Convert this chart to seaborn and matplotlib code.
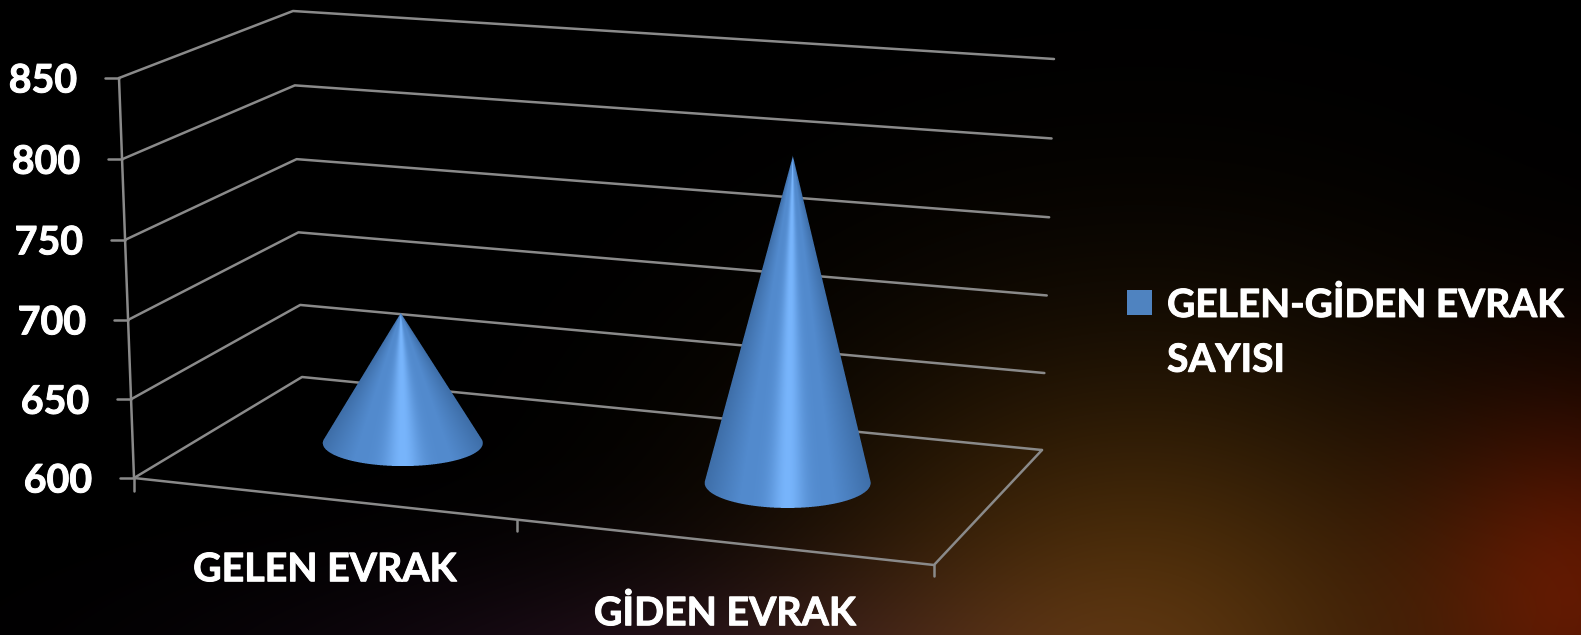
import numpy as np
import pandas as pd
import matplotlib
matplotlib.use('Agg')
import matplotlib.pyplot as plt
import matplotlib.patheffects as pe
import seaborn as sns
from matplotlib.patches import Patch
from matplotlib.path import Path

# chart values
categories = ['GELEN EVRAK', 'GİDEN EVRAK']
values = [685, 805]
y_ticks = [600, 650, 700, 750, 800, 850]
series_name = 'GELEN-GİDEN EVRAK\nSAYISI'

Y_MIN, Y_MAX = 600, 850

sns.set_theme(style='dark', rc={'axes.facecolor': 'black', 'figure.facecolor': 'black'})
plt.rcParams['font.family'] = ['Lato', 'DejaVu Sans']
plt.rcParams['font.weight'] = 'bold'

W, H = 1581, 635
fig = plt.figure(figsize=(W / 100, H / 100), dpi=100)
ax = fig.add_axes([0, 0, 1, 1])

# background glows
yy, xx = np.mgrid[0:H, 0:W]


def glow(cx, cy, sx, sy, rgb):
    g = np.exp(-((xx - cx) / sx) ** 2 - ((yy - cy) / sy) ** 2)
    return g[..., None] * np.array(rgb) / 255


bg = (glow(1140, 660, 340, 300, (84, 50, 10))
      + glow(1590, 590, 170, 190, (82, 16, 0))
      + glow(700, 690, 420, 120, (28, 12, 26)))
ax.imshow(np.clip(bg, 0, 1), extent=(0, W, H, 0), aspect='auto', zorder=0)

# corners of the 3D box on screen: front/back, left/right, bottom/top
box = {
    (0, 0, 0): (134, 478), (0, 0, 1): (119, 78),
    (0, 1, 0): (302, 377), (0, 1, 1): (293, 11),
    (1, 0, 0): (934, 565), (1, 0, 1): (948, 140),
    (1, 1, 0): (1042, 450), (1, 1, 1): (1054, 59),
}


def project(u, depth, val):
    # trilinear mix of the box corners, slight perspective on the value axis
    w = (val - Y_MIN) / (Y_MAX - Y_MIN)
    w = w / (1 + 0.02 * (1 - w))
    p = np.zeros(2)
    for (a, b, c), xy in box.items():
        k = (u if a else 1 - u) * (depth if b else 1 - depth) * (w if c else 1 - w)
        p += k * np.array(xy)
    return p


# grid lines as long table for seaborn
rows = []
line_id = 0


def add_line(points):
    global line_id
    for x, y in points:
        rows.append({'x': x, 'y': y, 'line': line_id})
    line_id += 1


for v in y_ticks:
    add_line([project(0, 0, v), project(0, 1, v), project(1, 1, v)])
    add_line([project(0, 0, v) + [-14, 0], project(0, 0, v)])
add_line([project(0, 0, Y_MIN), project(0, 0, Y_MAX)])
add_line([project(0, 0, Y_MIN), project(1, 0, Y_MIN), project(1, 1, Y_MIN)])
add_line([project(0, 0, Y_MIN), project(0, 0, Y_MIN) + [0, 13]])
add_line([project(1, 0, Y_MIN), project(1, 0, Y_MIN) + [0, 11]])
add_line([project(0.479, 0, Y_MIN), project(0.479, 0, Y_MIN) + [0, 11]])
grid_df = pd.DataFrame(rows)
sns.lineplot(data=grid_df, x='x', y='y', units='line', estimator=None, sort=False,
             color='#8a8a8a', linewidth=1.8, legend=False, ax=ax, zorder=2)

# cones: gradient image with a soft outline mask
cone_u = [0.234, 0.735]
cone_depth = 0.53
base_axes = [(80, 23), (83, 25)]
dark = np.array([62, 110, 168]) / 255
mid = np.array([82, 138, 205]) / 255
bright = np.array([120, 181, 252]) / 255


def draw_cone(u, val, a, b):
    centre = project(u, cone_depth, Y_MIN)
    apex = project(u, cone_depth, val)
    # tangent points from the apex to the base ellipse
    px, py = (apex[0] - centre[0]) / a, (apex[1] - centre[1]) / b
    phi = np.arctan2(py, px)
    d = np.arccos(1 / np.hypot(px, py))
    t = np.linspace(phi + d, phi + 2 * np.pi - d, 200)
    outline = np.column_stack([centre[0] + a * np.cos(t), centre[1] + b * np.sin(t)])
    outline = np.vstack([apex, outline])

    x0, x1 = int(centre[0] - a - 3), int(centre[0] + a + 4)
    y0, y1 = int(apex[1] - 3), int(centre[1] + b + 4)
    ss = 4
    gx = (np.arange((x1 - x0) * ss) + 0.5) / ss + x0
    gy = (np.arange((y1 - y0) * ss) + 0.5) / ss + y0
    mx, my = np.meshgrid(gx, gy)
    inside = Path(outline).contains_points(np.column_stack([mx.ravel(), my.ravel()]))
    inside = inside.reshape(mx.shape).astype(float)
    alpha = inside.reshape(y1 - y0, ss, x1 - x0, ss).mean(axis=(1, 3))

    px_x, px_y = np.meshgrid(np.arange(x0, x1) + 0.5, np.arange(y0, y1) + 0.5)
    s = np.maximum((px_y - apex[1]) / (centre[1] - apex[1]), 1e-3)
    c = np.clip((px_x - apex[0] - (centre[0] - apex[0]) * s) / (a * s), -1, 1)
    col = dark + (mid - dark) * np.clip(2.2 * (1 - np.abs(c)), 0, 1)[..., None]
    col = col + (bright - col) * np.exp(-(c / 0.2) ** 2)[..., None]
    rgba = np.dstack([col, alpha])
    ax.imshow(rgba, extent=(x0, x1, y1, y0), aspect='auto', zorder=3,
              interpolation='nearest')


for u, val, (a, b) in zip(cone_u, values, base_axes):
    draw_cone(u, val, a, b)

# text
bolder = [pe.withStroke(linewidth=0.7, foreground='white')]
for v in y_ticks:
    x, y = project(0, 0, v)
    ax.text(x - 42, y + 3, str(v), color='white', fontsize=28.3, fontweight='bold',
            ha='right', va='center', zorder=4, path_effects=bolder)

for name, u in zip(categories, [0.25, 0.75]):
    x, y = project(u, 0, Y_MIN)
    ax.text(x - 9.5, y + 70, name, color='white', fontsize=28.3, fontweight='bold',
            ha='center', va='center', zorder=4, path_effects=bolder)

ax.set_xlim(0, W)
ax.set_ylim(H, 0)
ax.set_xlabel('')
ax.set_ylabel('')
ax.axis('off')

leg = ax.legend(handles=[Patch(facecolor='#4f83c0', edgecolor='none', label=series_name)],
                loc='upper left', bbox_to_anchor=(1127 / W, 1 - 287 / H),
                bbox_transform=ax.transAxes, frameon=False, handlelength=0.65,
                handleheight=0.62, handletextpad=0.38, borderpad=0, borderaxespad=0,
                labelcolor='white', prop={'family': 'Lato', 'weight': 'bold', 'size': 28},
                labelspacing=0)
for txt in leg.get_texts():
    txt.set_linespacing(1.68)
    txt.set_path_effects(bolder)
handle = leg.legend_handles[0]
handle.set_y(handle.get_y() + 22)

fig.savefig('out.png', dpi=100, facecolor='black')
